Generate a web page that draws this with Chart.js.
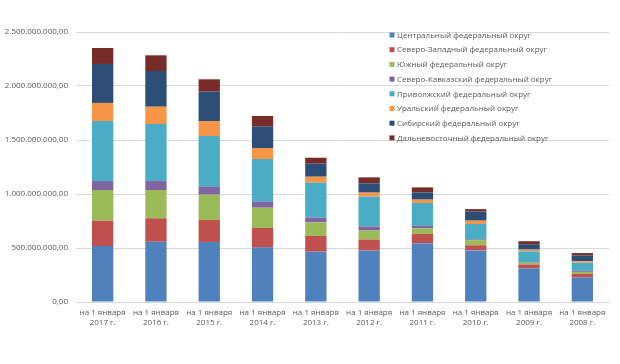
<!DOCTYPE html>
<html>
<head>
<meta charset="utf-8">
<script src="https://cdn.jsdelivr.net/npm/chart.js@4"></script>
<style>
html,body{margin:0;padding:0;background:#fff;}
#wrap{width:620px;height:364px;position:relative;}
</style>
</head>
<body>
<div id="wrap"><canvas id="c" width="620" height="364"></canvas></div>
<script>
const UNIT = 1e6;
const categories = [
  ["на 1 января","2017 г."],["на 1 января","2016 г."],["на 1 января","2015 г."],
  ["на 1 января","2014 г."],["на 1 января","2013 г."],["на 1 января","2012 г."],
  ["на 1 января","2011 г."],["на 1 января","2010 г."],["на 1 января","2009 г."],
  ["на 1 января","2008 г."]
];
const seriesNames = [
  "Центральный федеральный округ",
  "Северо-Западный федеральный округ",
  "Южный федеральный округ",
  "Северо-Кавказский федеральный округ",
  "Приволжский федеральный округ",
  "Уральский федеральный округ",
  "Сибирский федеральный округ",
  "Дальневосточный федеральный округ"
];
// values in millions
const central       = [518, 558, 556, 506, 466, 477, 545, 478, 312, 228];
const northwest     = [235, 217, 203, 179, 145, 102,  86,  47,  35,  32];
const south         = [284, 262, 235, 188, 127,  83,  52,  47,  16,  19];
const northCaucasus = [ 83,  83,  74,  56,  43,  37,  22,   8,   5,   9];
const volga         = [556, 528, 469, 395, 324, 277, 212, 142, 101,  75];
const ural          = [167, 160, 139, 102,  55,  37,  31,  31,  16,  15];
const siberia       = [361, 331, 272, 201, 121,  86,  67,  85,  50,  53];
const farEast       = [148, 145, 114,  95,  55,  55,  46,  22,  28,  22];
const yTicks = [0, 500000000, 1000000000, 1500000000, 2000000000, 2500000000];

const colors = ["#4F81BD","#C0504D","#9BBB59","#8064A2","#4BACC6","#F79646","#2C4D75","#772C2A"];
const seriesValues = [central, northwest, south, northCaucasus, volga, ural, siberia, farEast];

function fmt(v){
  const s = Math.round(v).toString();
  let out = "";
  for (let i = 0; i < s.length; i++){
    if (i > 0 && (s.length - i) % 3 === 0) out += ".";
    out += s[i];
  }
  return out + ",00";
}

const FONT = "'Open Sans', 'Liberation Sans', sans-serif";
const TEXT = "#595959";

const legendPlugin = {
  id: "inLegend",
  afterDatasetsDraw(chart){
    const ctx = chart.ctx;
    ctx.save();
    ctx.font = "8px " + FONT;
    ctx.textBaseline = "middle";
    ctx.textAlign = "left";
    const x0 = 392, y0 = 35, step = 14.7;
    chart.data.datasets.forEach((ds, i) => {
      const y = y0 + i * step;
      ctx.fillStyle = ds.backgroundColor;
      ctx.fillRect(x0 - 2.5, y - 2.5, 5, 5);
      ctx.fillStyle = TEXT;
      ctx.fillText(ds.label, x0 + 5, y + 0.5);
    });
    ctx.restore();
  }
};

new Chart(document.getElementById("c"), {
  type: "bar",
  data: {
    labels: categories,
    datasets: seriesNames.map((n, i) => ({
      label: n,
      data: seriesValues[i].map(v => v * UNIT),
      backgroundColor: colors[i],
      borderWidth: 0,
      categoryPercentage: 1.0,
      barPercentage: 0.4
    }))
  },
  options: {
    responsive: false,
    animation: false,
    devicePixelRatio: 1,
    layout: { padding: { top: 32, right: 11, left: 0, bottom: 0 } },
    plugins: { legend: { display: false }, tooltip: { enabled: false } },
    scales: {
      x: {
        stacked: true,
        grid: { display: false, drawTicks: false },
        border: { display: true, color: "#D9D9D9" },
        ticks: { color: TEXT, font: { family: FONT, size: 8 }, padding: 6, maxRotation: 0, autoSkip: false },
        afterFit(s){ s.height = 62; }
      },
      y: {
        stacked: true,
        min: 0, max: 2500000000,
        afterBuildTicks(s){ s.ticks = yTicks.map(v => ({ value: v })); },
        grid: { color: "#D9D9D9", drawTicks: false },
        border: { display: false },
        ticks: { color: TEXT, font: { family: FONT, size: 8 }, padding: 8, callback: v => fmt(v) },
        afterFit(s){ s.width = 76; }
      }
    }
  },
  plugins: [legendPlugin]
});
</script>
</body>
</html>
